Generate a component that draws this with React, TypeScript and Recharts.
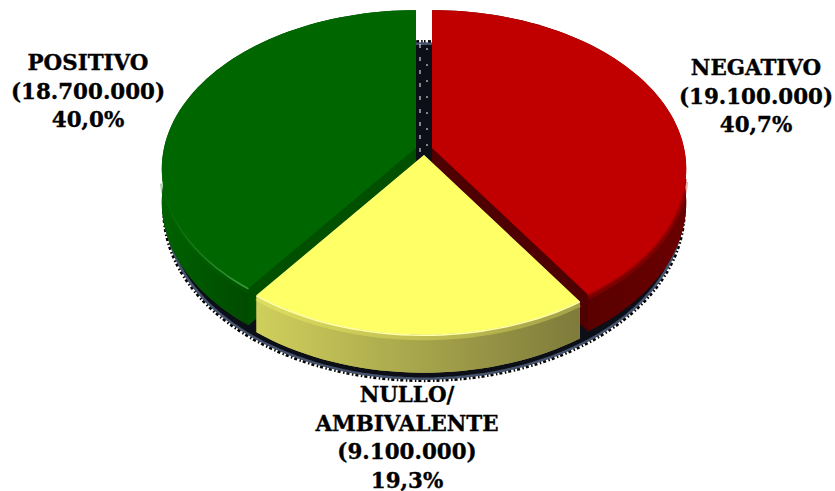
import React from "react";
import { PieChart, Pie } from "recharts";

const categories = ["POSITIVO", "NEGATIVO", "NULLO/ AMBIVALENTE"];
const voters = [18700000, 19100000, 9100000];
const shares = ["40,0%", "40,7%", "19,3%"];
const votersText = ["(18.700.000)", "(19.100.000)", "(9.100.000)"];
const titleLines = [["POSITIVO"], ["NEGATIVO"], ["NULLO/", "AMBIVALENTE"]];

const chartData = categories.map((name, i) => ({ name, value: voters[i], idx: i }));
const total = voters.reduce((a, b) => a + b, 0);
const shadowData = [{ name: "shadow", value: total }];

const FONT = "'DejaVu Serif', serif";
const W = 835;
const H = 491;
const KEY = 0.132;
const RX = 252;
const RY = 156;
const DEPTH = 33;

const styles = [
  { dx: -8, dy: -4, top: "#006600", cut: "#005000", wallA: "#006200", wallB: "#004a00", rim: "#3fa03f", x0: 160, x1: 250 },
  { dx: 8, dy: -4, top: "#c00000", cut: "#4f0000", wallA: "#5a0000", wallB: "#6a0000", rim: "#a80000", x0: 590, x1: 686 },
  { dx: 0, dy: 3, top: "#ffff66", cut: "#a8a84c", wallA: "#cfcf5c", wallB: "#7e7b3b", rim: "#ffffa8", x0: 258, x1: 580 },
];

type Pt = [number, number, number];

function project(t: number, a: number, b: number): Pt {
  const r = (t * Math.PI) / 180;
  const u = Math.sin(r);
  const v = -Math.cos(r);
  const w = 1 - KEY * v;
  return [(u * a) / w, (v * b) / w, w];
}

function arcPoints(start: number, end: number, a: number, b: number): Pt[] {
  const n = Math.max(8, Math.ceil(Math.abs(end - start) / 2));
  const out: Pt[] = [];
  for (let i = 0; i <= n; i++) out.push(project(start + ((end - start) * i) / n, a, b));
  return out;
}

const toD = (pts: number[][], cx: number, cy: number, extra: (p: number[]) => number, close = true) =>
  pts.map((p, i) => `${i ? "L" : "M"}${(cx + p[0]).toFixed(2)} ${(cy + p[1] + extra(p)).toFixed(2)}`).join("") + (close ? "Z" : "");

function ShadowShape(props: any) {
  const { cx, cy } = props;
  const pts = arcPoints(0, 360, RX + 4, RY + 4);
  const low = (p: number[]) => (DEPTH + 2) / p[2];
  return (
    <g>
      <path d={toD(pts, cx, cy + 2, low)} fill="none" stroke="#000000" strokeWidth={7} strokeDasharray="1.5 2.5 3 2" />
      <path d={toD(pts, cx, cy + 2, low)} fill="#0c0f17" stroke="#46536d" strokeWidth={2.5} />
      <line x1={cx - 4} x2={cx - 4} y1={cy - 108} y2={cy + 2} stroke="#ffffff" strokeWidth={1} strokeDasharray="4 9" />
      <line x1={cx + 3} x2={cx + 3} y1={cy - 104} y2={cy + 2} stroke="#ffffff" strokeWidth={1} strokeDasharray="2 14" />
    </g>
  );
}

function SliceShape(props: any) {
  const { cx, cy, startAngle, endAngle, idx } = props;
  const s = styles[idx];
  const x = cx + s.dx;
  const y = cy + s.dy;
  const start = 90 - startAngle;
  const end = 90 - endAngle;
  const arc = arcPoints(start, end, RX, RY);
  const apex: Pt = [0, 0, 1];
  const poly = [apex, ...arc];
  const down = (p: number[]) => DEPTH / p[2];
  const none = () => 0;
  const first = arc[0];
  const last = arc[arc.length - 1];
  const gid = `wall-${idx}`;
  const rid = `rim-${idx}`;
  const strip = [...arc.map((p) => [p[0], p[1], p[2], 0]), ...[...arc].reverse().map((p) => [p[0], p[1] + DEPTH / p[2], p[2], 0])];
  const quad = (a: Pt, b: Pt) => [
    [a[0], a[1]],
    [b[0], b[1]],
    [b[0], b[1] + DEPTH / b[2]],
    [a[0], a[1] + DEPTH / a[2]],
  ];
  const front = arc.filter((p) => p[1] > 30);
  return (
    <g>
      <defs>
        <linearGradient id={gid} gradientUnits="userSpaceOnUse" x1={s.x0} x2={s.x1} y1={0} y2={0}>
          <stop offset="0%" stopColor={s.wallA} />
          <stop offset="100%" stopColor={s.wallB} />
        </linearGradient>
        <linearGradient id={rid} gradientUnits="userSpaceOnUse" x1={s.x0} x2={s.x1} y1={0} y2={0}>
          <stop offset="0%" stopColor={s.rim} stopOpacity={idx === 0 ? 0 : 1} />
          <stop offset="100%" stopColor={s.rim} stopOpacity={1} />
        </linearGradient>
      </defs>
      <path d={toD(poly, x, y, down)} fill={s.cut} />
      <path d={toD(quad(apex, first), x, y, none)} fill={s.cut} />
      <path d={toD(quad(apex, last), x, y, none)} fill={s.cut} />
      <path d={toD(strip, x, y, none)} fill={`url(#${gid})`} />
      <path d={toD(poly, x, y, none)} fill={s.top} />
      {front.length > 1 && (
        <>
          <path d={toD(front, x, y, () => 3, false)} fill="none" stroke={s.top} strokeOpacity={0.3} strokeWidth={5} />
          <path d={toD(front, x, y, () => 0.5, false)} fill="none" stroke={`url(#${rid})`} strokeWidth={1.6} />
        </>
      )}
    </g>
  );
}

function SliceLabel(props: any) {
  const { idx } = props;
  const anchors = [
    { x: 88, y: 70 },
    { x: 756, y: 75 },
    { x: 407, y: 402 },
  ];
  const a = anchors[idx];
  const lines = [...titleLines[idx], votersText[idx], shares[idx]];
  return (
    <text x={a.x} y={a.y} textAnchor="middle" fontFamily={FONT} fontWeight="bold" fontSize={21.4} fill="#000000" stroke="#000000" strokeWidth={0.35}>
      {lines.map((l, i) => (
        <tspan key={i} x={a.x} y={a.y + i * 28.5}>
          {l}
        </tspan>
      ))}
    </text>
  );
}

export default function App() {
  const startAngle = 90 + (voters[0] / total) * 360;
  return (
    <div style={{ position: "absolute", left: 0, top: 0, width: W, height: H, background: "#ffffff" }}>
      <PieChart width={W} height={H} margin={{ top: 0, right: 0, bottom: 0, left: 0 }}>
        <Pie
          data={shadowData}
          dataKey="value"
          cx={424}
          cy={152}
          outerRadius={150}
          startAngle={90}
          endAngle={-270}
          stroke="none"
          isAnimationActive={false}
          shape={ShadowShape}
          legendType="none"
        />
        <Pie
          data={chartData}
          dataKey="value"
          nameKey="name"
          cx={424}
          cy={152}
          outerRadius={150}
          startAngle={startAngle}
          endAngle={startAngle - 360}
          stroke="none"
          isAnimationActive={false}
          shape={SliceShape}
          label={SliceLabel}
          labelLine={false}
        />
      </PieChart>
    </div>
  );
}
